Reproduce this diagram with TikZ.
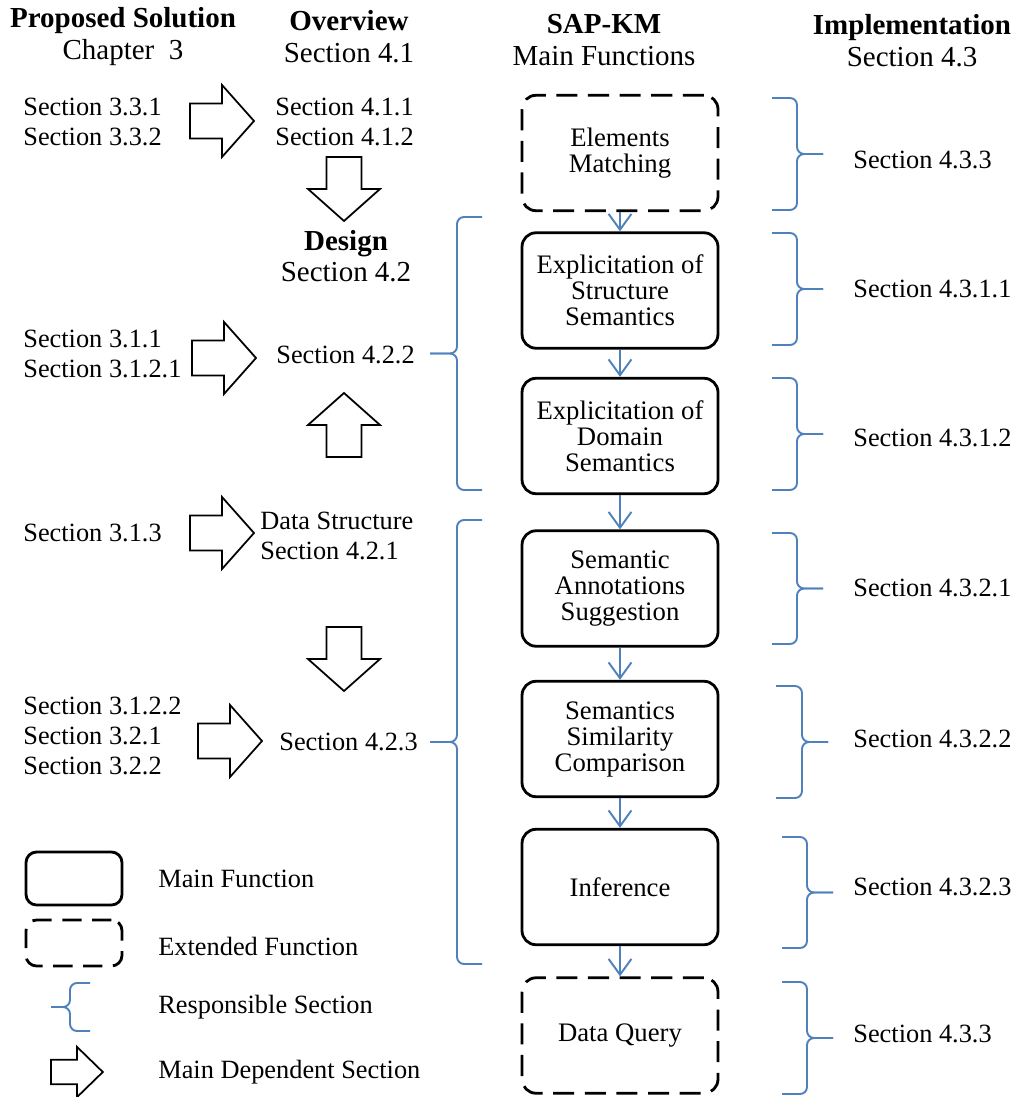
\documentclass[tikz,border=0pt]{standalone}
\usepackage{fontspec}
\setmainfont{Liberation Serif}
\usetikzlibrary{arrows.meta}
\usetikzlibrary{math}
\usetikzlibrary{positioning}

\definecolor{officeblue}{HTML}{4F81BD}

\tikzset{
  pics/fatarrow/.style={code={
    \draw[line width=1pt, fill=white] (0,-17.5) -- (32,-17.5) -- (32,-36) -- (64,0)
      -- (32,36) -- (32,17.5) -- (0,17.5) -- cycle;
  }}
}

% responsible section brace: end x, spine x, tip x, top y, bottom y
\newcommand{\respbrace}[5]{
  \draw[resp] (#1,#4) -- (#2,#4) -- (#2,{(#4+#5)/2}) -- (#3,{(#4+#5)/2});
  \draw[resp] (#1,#5) -- (#2,#5) -- (#2,{(#4+#5)/2}) -- (#3,{(#4+#5)/2});
}

\begin{document}
\begin{tikzpicture}[x=0.02cm,y=-0.02cm,
  txt/.style={font=\fontsize{15}{16.8}\selectfont, align=left, inner sep=0pt},
  head/.style={font=\fontsize{16.5}{18.2}\selectfont, align=center, inner sep=0pt},
  mainfn/.style={draw, line width=1.6pt, rounded corners=8pt, align=center,
    minimum width=\boxw cm, minimum height=\boxh cm, inner sep=0pt,
    font=\fontsize{15.2}{14.8}\selectfont},
  extfn/.style={mainfn, dash pattern=on 12pt off 6pt},
  flow/.style={draw=officeblue, line width=1.1pt, -{Straight Barb[length=9pt,width=13pt]}},
  resp/.style={draw=officeblue, line width=1.1pt, rounded corners=4pt}]

  \tikzmath{
    \boxw = 3.92; % width of the function boxes
    \boxh = 2.31; % height of the function boxes
  }

  \useasboundingbox (0,0) rectangle (1016,1097);

  % column headers
  \node[head] (proposed) at (123,37) {\bfseries Proposed Solution\\Chapter\ \ 3};
  \node[head] (overview) at (349,37) {\bfseries Overview\\Section 4.1};
  \node[head] (sapkm)    at (604,40) {\bfseries SAP-KM\\Main Functions};
  \node[head] (impl)     at (912,41) {\bfseries Implementation\\Section 4.3};

  % proposed solution and design column
  \node[txt, anchor=west] (sec331)  at (23,122)  {Section 3.3.1\\Section 3.3.2};
  \node[txt, anchor=west] (sec411)  at (275,122) {Section 4.1.1\\Section 4.1.2};
  \node[head, font=\fontsize{16.5}{17.6}\selectfont] (design) at (346,256) {\bfseries Design\\Section 4.2};
  \node[txt, anchor=west] (sec311)  at (23,354)  {Section 3.1.1\\Section 3.1.2.1};
  \node[txt, anchor=west] (sec422)  at (276,355) {Section 4.2.2};
  \node[txt, anchor=west] (sec313)  at (23,533)  {Section 3.1.3};
  \node[txt, anchor=west] (sec421)  at (260,536) {Data Structure\\Section 4.2.1};
  \node[txt, anchor=west, font=\fontsize{15}{17}\selectfont] (sec3122) at (23,736) {Section 3.1.2.2\\Section 3.2.1\\Section 3.2.2};
  \node[txt, anchor=west] (sec423)  at (279,742) {Section 4.2.3};

  % main dependent sections
  \pic at (190,121) {fatarrow};
  \pic[rotate=-90] at (344,157) {fatarrow};
  \pic at (192,358) {fatarrow};
  \pic[rotate=90] at (344,457) {fatarrow};
  \pic at (190,533) {fatarrow};
  \pic[rotate=-90] at (344,627) {fatarrow};
  \pic at (198,741) {fatarrow};

  % design braces
  \respbrace{482}{457}{430}{217}{490}
  \respbrace{482}{457}{430}{520}{964}

  % main functions
  \node[extfn]  (match)   at (620,153)   {Elements\\Matching};
  \node[mainfn] (struct)  at (620,290.5) {Explicitation of\\Structure\\Semantics};
  \node[mainfn] (domain)  at (620,436)   {Explicitation of\\Domain\\Semantics};
  \node[mainfn] (annot)   at (620,588.5) {Semantic\\Annotations\\Suggestion};
  \node[mainfn] (simil)   at (620,739)   {Semantics\\Similarity\\Comparison};
  \node[mainfn] (infer)   at (620,887)   {Inference};
  \node[extfn]  (query)   at (620,1035.5) {Data Query};

  \draw[flow] (match)  -- (struct);
  \draw[flow] (struct) -- (domain);
  \draw[flow] (domain) -- (annot);
  \draw[flow] (annot)  -- (simil);
  \draw[flow] (simil)  -- (infer);
  \draw[flow] (infer)  -- (query);

  % implementation braces and sections
  \respbrace{772}{797}{823}{98}{210}
  \respbrace{772}{797}{823}{233}{345}
  \respbrace{772}{797}{823}{378}{490}
  \respbrace{772}{797}{823}{533}{644}
  \respbrace{776}{802}{828}{686}{798}
  \respbrace{782}{807}{833}{837}{948}
  \respbrace{782}{807}{833}{982}{1094}

  \node[txt, anchor=west] (impl433a)  at (853,160)  {Section 4.3.3};
  \node[txt, anchor=west] (impl4311)  at (853,289)  {Section 4.3.1.1};
  \node[txt, anchor=west] (impl4312)  at (853,438)  {Section 4.3.1.2};
  \node[txt, anchor=west] (impl4321)  at (853,588)  {Section 4.3.2.1};
  \node[txt, anchor=west] (impl4322)  at (853,739)  {Section 4.3.2.2};
  \node[txt, anchor=west] (impl4323)  at (853,887)  {Section 4.3.2.3};
  \node[txt, anchor=west] (impl433b)  at (853,1034) {Section 4.3.3};

  % legend
  \node[mainfn, minimum width=1.92cm, minimum height=1.06cm, rounded corners=6pt] (legmain) at (74,878.5) {};
  \node[extfn, minimum width=1.92cm, minimum height=0.92cm, rounded corners=6pt, dash pattern=on 11pt off 6pt] (legext) at (74,943) {};
  \respbrace{90}{70}{51}{983}{1031}
  \pic[xscale=0.81, yscale=0.70] at (51,1072) {fatarrow};

  \node[txt, anchor=west] (legmaintxt) at (158,879)  {Main Function};
  \node[txt, anchor=west] (legexttxt)  at (158,946)  {Extended Function};
  \node[txt, anchor=west] (legresptxt) at (158,1007) {Responsible Section};
  \node[txt, anchor=west] (legdeptxt)  at (158,1072) {Main Dependent Section};

\end{tikzpicture}
\end{document}
